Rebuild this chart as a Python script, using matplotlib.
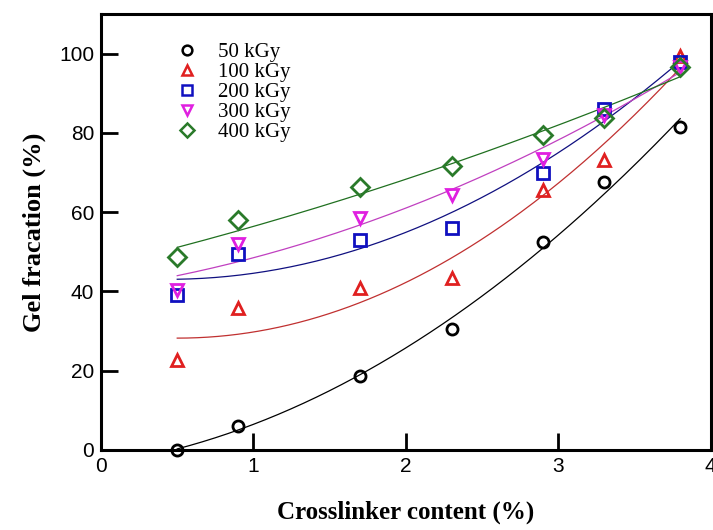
import numpy as np
import matplotlib
matplotlib.use("Agg")
import matplotlib.pyplot as plt
from matplotlib import font_manager

crosslinker = [0.5, 0.9, 1.7, 2.3, 2.9, 3.3, 3.8]
gel_50 = [0.0, 6.1, 18.7, 30.4, 52.4, 67.6, 81.5]
gel_100 = [22.8, 35.7, 40.8, 43.3, 65.6, 73.2, 99.5]
gel_200 = [39.0, 49.4, 53.0, 56.0, 70.0, 86.0, 98.0]
gel_300 = [40.3, 52.0, 58.5, 64.3, 73.4, 84.6, 96.7]
gel_400 = [48.6, 58.0, 66.3, 71.6, 79.5, 83.8, 96.5]
labels = ["50 kGy", "100 kGy", "200 kGy", "300 kGy", "400 kGy"]
x_ticks = [0, 1, 2, 3, 4]
y_ticks = [0, 20, 40, 60, 80, 100]

names = {f.name for f in font_manager.fontManager.ttflist}
tick_font = "Liberation Sans Narrow" if "Liberation Sans Narrow" in names else "Liberation Sans"

series = [gel_50, gel_100, gel_200, gel_300, gel_400]
markers = ["o", "^", "s", "v", "D"]
mcolors = ["#000000", "#e02020", "#1010c0", "#e020e0", "#2a7a2a"]
lcolors = ["#000000", "#c03030", "#101080", "#c040c0", "#207020"]
msizes = [8, 8, 9, 9, 9]

fig = plt.figure(figsize=(7.13, 5.30), dpi=100)
ax = fig.add_axes([0.1417, 0.151, 0.855, 0.8226])

xs = np.array(crosslinker)
xf = np.linspace(xs[0], xs[-1], 200)
handles = []
for ys, mk, mc, lc, ms, lab in zip(series, markers, mcolors, lcolors, msizes, labels):
    coef = np.polyfit(xs, ys, 2)
    ax.plot(xf, np.polyval(coef, xf), color=lc, lw=0.9, zorder=2)
    h, = ax.plot(xs, ys, linestyle="none", marker=mk, markersize=ms,
                 markerfacecolor="none", markeredgecolor=mc, markeredgewidth=2.0,
                 label=lab, zorder=3, clip_on=False)
    handles.append(h)

ax.set_xlim(0, 4)
ax.set_ylim(0, 110)
ax.set_xticks(x_ticks)
ax.set_yticks(y_ticks)
ax.tick_params(direction="in", length=12, width=2, labelsize=15, pad=5)
for lbl in ax.get_xticklabels() + ax.get_yticklabels():
    lbl.set_fontfamily(tick_font)
for sp in ax.spines.values():
    sp.set_linewidth(2.2)

ax.set_xlabel("Crosslinker content (%)", fontfamily="Liberation Serif",
              fontweight="bold", fontsize=18, labelpad=18)
ax.set_ylabel("Gel fracation (%)", fontfamily="Liberation Serif",
              fontweight="bold", fontsize=19, labelpad=9)

leg = ax.legend(handles=handles, loc="upper left", bbox_to_anchor=(0.11, 0.954),
                frameon=False, prop={"family": "Liberation Serif", "size": 15},
                handlelength=1.0, handletextpad=1.0, labelspacing=0.02,
                borderaxespad=0, borderpad=0.4)
for h in leg.legend_handles:
    h.set_markersize(7)
    h.set_markeredgewidth(1.8)

fig.savefig("out.png", dpi=100)
